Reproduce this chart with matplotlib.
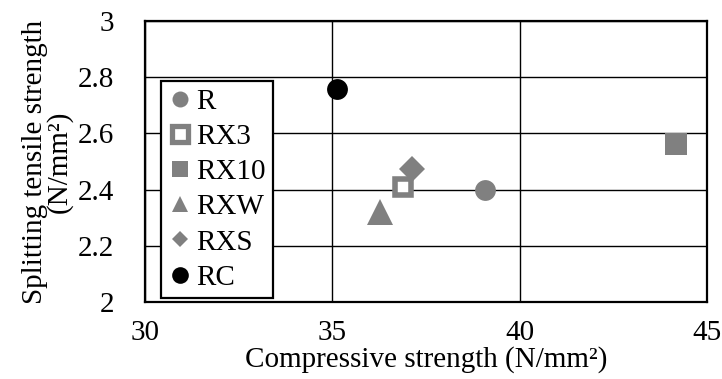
import matplotlib
matplotlib.use("Agg")
import matplotlib.pyplot as plt
from matplotlib.lines import Line2D

plt.rcParams['font.family'] = ['Liberation Serif', 'DejaVu Serif']

labels = ["R", "RX3", "RX10", "RXW", "RXS", "RC"]
compressive = [39.07, 36.89, 44.17, 36.28, 37.12, 35.13]
splitting = [2.399, 2.409, 2.562, 2.321, 2.473, 2.759]

xticks = [30, 35, 40, 45]
yticks = [2, 2.2, 2.4, 2.6, 2.8, 3]
ytick_labels = ["2", "2.2", "2.4", "2.6", "2.8", "3"]

gray = "#808080"
styles = {
    "R":    dict(marker="o", ms=15, mfc=gray, mec=gray, mew=0),
    "RX3":  dict(marker="s", ms=12, mfc="white", mec=gray, mew=4),
    "RX10": dict(marker="s", ms=16, mfc=gray, mec=gray, mew=0),
    "RXW":  dict(marker="^", ms=19, mfc=gray, mec=gray, mew=0),
    "RXS":  dict(marker="D", ms=13, mfc=gray, mec=gray, mew=0),
    "RC":   dict(marker="o", ms=15, mfc="black", mec="black", mew=0),
}
leg_styles = {
    "R":    dict(marker="o", ms=11.5, mfc=gray, mec=gray, mew=0),
    "RX3":  dict(marker="s", ms=11, mfc="white", mec=gray, mew=3.8),
    "RX10": dict(marker="s", ms=12, mfc=gray, mec=gray, mew=0),
    "RXW":  dict(marker="^", ms=12, mfc=gray, mec=gray, mew=0),
    "RXS":  dict(marker="D", ms=8.5, mfc=gray, mec=gray, mew=0),
    "RC":   dict(marker="o", ms=12, mfc="black", mec="black", mew=0),
}

FS = 21
fig = plt.figure(figsize=(7.22, 3.79), dpi=100)
ax = fig.add_axes([145/722, 77/379, 562/722, 281/379])

for lab, x, y in zip(labels, compressive, splitting):
    ax.plot([x], [y], linestyle="none", zorder=3, solid_joinstyle="round", **styles[lab])

ax.set_xlim(30, 45)
ax.set_ylim(2, 3)
ax.set_xticks(xticks)
ax.set_xticklabels([str(t) for t in xticks])
ax.set_yticks(yticks)
ax.set_yticklabels(ytick_labels)
ax.tick_params(length=0, labelsize=FS, colors="black")
ax.tick_params(axis="x", pad=13)
ax.tick_params(axis="y", pad=22)
ax.grid(True, color="black", linewidth=1.0)
ax.set_axisbelow(True)
for s in ax.spines.values():
    s.set_linewidth(1.6)
    s.set_color("black")

ax.set_xlabel("Compressive strength (N/mm\u00b2)", fontsize=FS, labelpad=0)
ax.set_ylabel("Splitting tensile strength\n(N/mm\u00b2)", fontsize=FS, labelpad=4, linespacing=0.9)

handles = [Line2D([], [], linestyle="none", **leg_styles[l]) for l in labels]
leg = ax.legend(handles, labels, loc="lower left", bbox_to_anchor=(0.028, 0.014),
                fontsize=FS, frameon=True, fancybox=False, edgecolor="black",
                framealpha=1, handlelength=0.8, handletextpad=0.15, borderpad=0.25,
                labelspacing=0.30, borderaxespad=0)
leg.get_frame().set_linewidth(1.6)

fig.savefig("out.png", dpi=100)
